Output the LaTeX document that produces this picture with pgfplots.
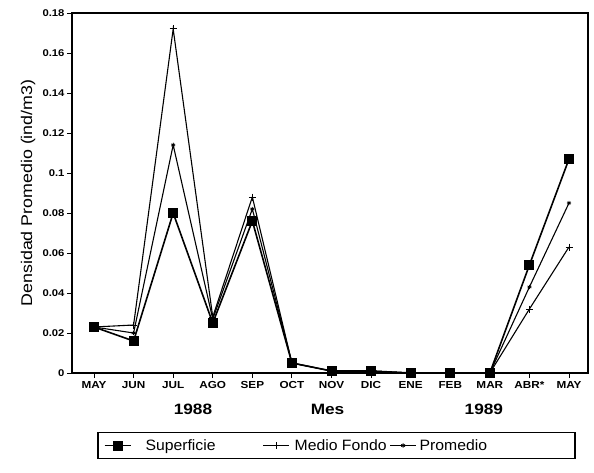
\documentclass[border=0pt]{standalone}
\usepackage{pgfplots}
\pgfplotsset{compat=1.18}
\usepackage{fontspec}
\setmainfont[FakeStretch=1.15]{Liberation Sans}
\newfontfamily\legendfont[FakeStretch=1.05]{Liberation Sans}

% Monthly mean density, May 1988 - May 1989 (x = 0..12)
\pgfplotstableread{
x  sup    medio  prom
0  0.023  0.023  0.023
1  0.016  0.024  0.020
2  0.080  0.172  0.114
3  0.025  0.028  0.027
4  0.076  0.088  0.082
5  0.005  0.005  0.005
6  0.001  0.001  0.001
7  0.001  0.001  0.001
8  0.000  0.000  0.000
9  0.000  0.000  0.000
10 0.000  0.000  0.000
11 0.054  0.032  0.043
12 0.107  0.063  0.085
}\datatable

\begin{document}
\begin{tikzpicture}[x=1pt,y=1pt]
\path (0,0) rectangle (594,472);
\begin{axis}[
  name=ax,
  at={(72pt,99pt)}, anchor=south west,
  scale only axis, width=516pt, height=360pt,
  xmin=-0.556, xmax=12.48, ymin=0, ymax=0.18,
  xtick={0,...,12},
  xticklabels={MAY,JUN,JUL,AGO,SEP,OCT,NOV,DIC,ENE,FEB,MAR,ABR*,MAY},
  ytick={0,0.02,0.04,0.06,0.08,0.1,0.12,0.14,0.16,0.18},
  yticklabels={0,0.02,0.04,0.06,0.08,0.1,0.12,0.14,0.16,0.18},
  tick align=outside, tick pos=left,
  major tick length=5pt,
  axis line style={line width=1.4pt},
  tick style={line width=0.9pt, black},
  xticklabel style={font=\fontsize{10.2}{12}\selectfont\bfseries},
  yticklabel style={font=\fontsize{9.8}{12}\selectfont\bfseries, xshift=1pt},
  clip=false,
  legend columns=3,
  legend style={at={(0.5126,-0.2014)}, anchor=center,
    font=\legendfont\fontsize{15}{17}\selectfont, draw=black, line width=1.2pt,
    inner xsep=6pt, inner ysep=5pt,
    nodes={inner xsep=0pt},
    /tikz/every odd column/.append style={column sep=0pt},
    /tikz/every even column/.append style={column sep=0pt}},
  legend image code/.code={%
    \draw[mark repeat=2,mark phase=2,#1]
      plot coordinates {(0pt,0pt) (13pt,0pt) (26pt,0pt)};},
  legend cell align=left,
]
\addplot[black, line width=1.6pt, mark=square*, mark size=4.2pt,
  mark options={solid}] table[x=x,y=sup]{\datatable};
\addlegendentry{\hspace*{14pt}Superficie\rule{47pt}{0pt}}
\addplot[black, line width=1.1pt, mark=+, mark size=3.5pt,
  mark options={line width=1pt}] table[x=x,y=medio]{\datatable};
\addlegendentry{\hspace*{5pt}Medio Fondo\rule{3pt}{0pt}}
\addplot[black, line width=1.1pt, mark=asterisk, mark size=2.2pt,
  mark options={line width=0.8pt}] table[x=x,y=prom]{\datatable};
\addlegendentry{\hspace*{3pt}Promedio\rule{82pt}{0pt}}

% axis title and year groups
\node[rotate=90, anchor=base, font=\fontsize{15.5}{18}\selectfont]
  at (axis description cs:-0.0775,0.5) {Densidad Promedio (ind/m3)};
\node[anchor=base, font=\fontsize{15}{17}\selectfont\bfseries]
  at (axis cs:2.5,0) [yshift=-41pt] {1988};
\node[anchor=base, font=\fontsize{15}{17}\selectfont\bfseries]
  at (axis cs:5.9,0) [yshift=-41pt] {Mes};
\node[anchor=base, font=\fontsize{15}{17}\selectfont\bfseries]
  at (axis cs:9.85,0) [yshift=-41pt] {1989};
\end{axis}
% frame: top and right edges
\draw[black, line width=1.4pt] (ax.north west) -- (ax.north east) -- (ax.south east);
\end{tikzpicture}
\end{document}
